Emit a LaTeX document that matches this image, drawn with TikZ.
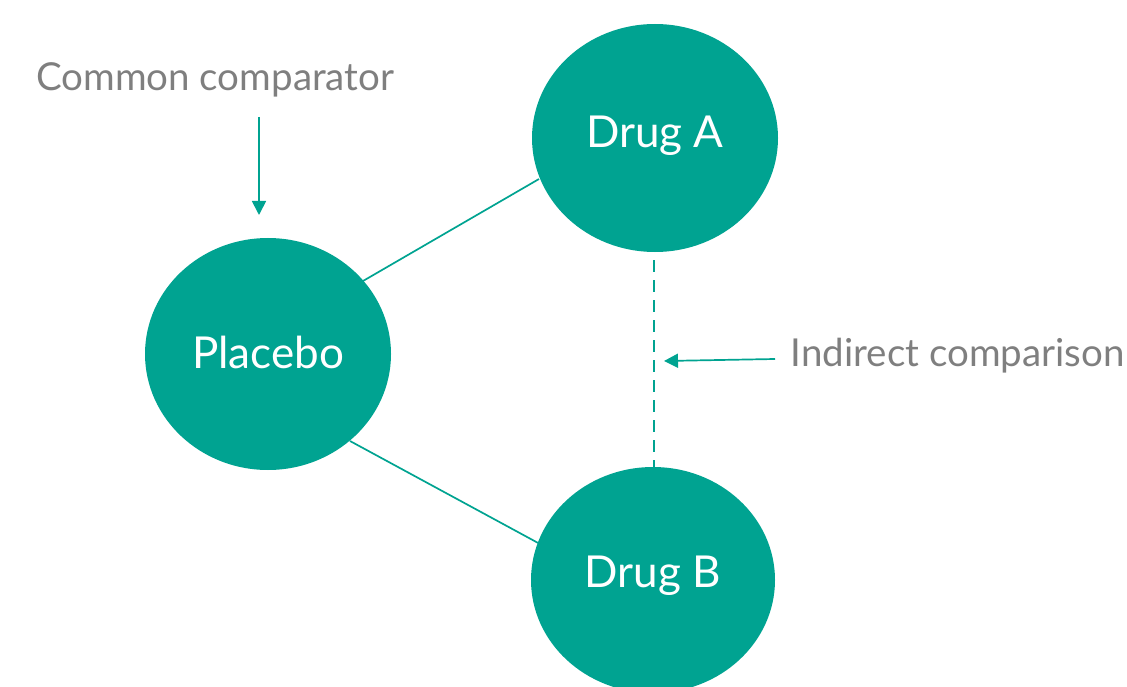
\documentclass[tikz,border=0pt]{standalone}
\usepackage{fontspec}
\setmainfont{Lato}
\usetikzlibrary{arrows.meta}
\definecolor{teal1}{HTML}{00A391}
\definecolor{gray1}{HTML}{7F7F7F}
\begin{document}
\begin{tikzpicture}[x=1pt,y=-1pt,
  drugtext/.style={text=white,font=\fontsize{44}{48}\selectfont,inner sep=0pt},
  lab/.style={text=gray1,font=\fontsize{38.5}{42}\selectfont,inner sep=0pt},
  link/.style={draw=teal1,line width=1.7pt},
  pointer/.style={draw=teal1,line width=1.7pt,-{Triangle[width=14pt,length=14pt]}}]
\useasboundingbox (0,0) rectangle (1127,687);
\clip (0,0) rectangle (1127,687);
\fill[teal1] (655,138) ellipse [x radius=123, y radius=114];
\fill[teal1] (268,354) ellipse [x radius=123, y radius=116];
\fill[teal1] (653,580) ellipse [x radius=122, y radius=113];
\node[drugtext] (a) at (655,136) {Drug A};
\node[drugtext] (p) at (268,352) {Placebo};
\node[drugtext] (b) at (653,576) {Drug B};
\coordinate (pa) at (363,281); \coordinate (ap) at (539,179);
\coordinate (pb) at (350,441); \coordinate (bp) at (540,544);
\coordinate (ad) at (654,260); \coordinate (bd) at (654,468);
\draw[link] (pa) -- (ap);
\draw[link] (pb) -- (bp);
\draw[link,dash pattern=on 12pt off 8pt] (ad) -- (bd);
\node[lab,anchor=west] (cc) at (36,80) {Common comparator};
\node[lab,anchor=east] (ic) at (1125,356) {Indirect comparison};
\coordinate (c1) at (259,117); \coordinate (c2) at (259,215);
\coordinate (i1) at (775,359); \coordinate (i2) at (664,361);
\draw[pointer] (c1) -- (c2);
\draw[pointer] (i1) -- (i2);
\end{tikzpicture}
\end{document}
